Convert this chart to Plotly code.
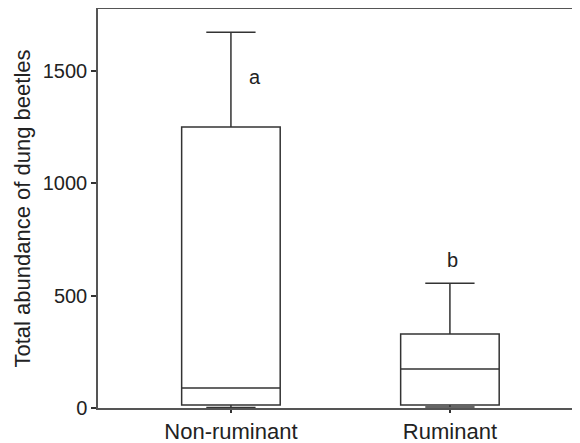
import plotly.graph_objects as go

categories = ["Non-ruminant", "Ruminant"]
lower_fence = [2, 4]
q1 = [13, 13]
median = [89, 173]
q3 = [1249, 329]
upper_fence = [1671, 555]
letters = ["a", "b"]
letter_y = [1471, 658]
letter_dx = [0.11, 0.01]

fig = go.Figure()
fig.add_trace(go.Box(
    x=categories,
    q1=q1, median=median, q3=q3,
    lowerfence=lower_fence, upperfence=upper_fence,
    width=0.45, whiskerwidth=0.5,
    fillcolor="white",
    line=dict(color="#333333", width=1.5),
    boxpoints=False, hoverinfo="skip",
))

for i, (c, l, yv) in enumerate(zip(categories, letters, letter_y)):
    fig.add_annotation(x=i + letter_dx[i], y=yv, xref="x", yref="y", text=l,
                       showarrow=False, font=dict(size=20, color="#222222",
                                                  family="Liberation Sans, Arial"))

# page body has an 8px default margin, so the figure is sized 8px smaller
fig.update_layout(
    width=572, height=435,
    margin=dict(l=90, r=0, t=1, b=35),
    paper_bgcolor="white", plot_bgcolor="white",
    showlegend=False,
    font=dict(family="Liberation Sans, Arial", color="#222222"),
)
fig.update_xaxes(
    type="category", range=[-0.607, 1.594], automargin=False,
    showline=True, linecolor="#555555", linewidth=1.5, mirror=True,
    ticks="outside", ticklen=3, tickcolor="#333333", tickwidth=1.5,
    tickfont=dict(size=22), showgrid=False, zeroline=False,
)
fig.update_yaxes(
    range=[0, 1774], tickvals=[0, 500, 1000, 1500], automargin=False,
    showline=True, linecolor="#555555", linewidth=1.5,
    ticks="outside", ticklen=5, tickcolor="#333333", tickwidth=1.5,
    tickfont=dict(size=20), showgrid=False, zeroline=False,
    title=dict(text="Total abundance of dung beetles", font=dict(size=22), standoff=6),
)

fig.write_html("out.html")
